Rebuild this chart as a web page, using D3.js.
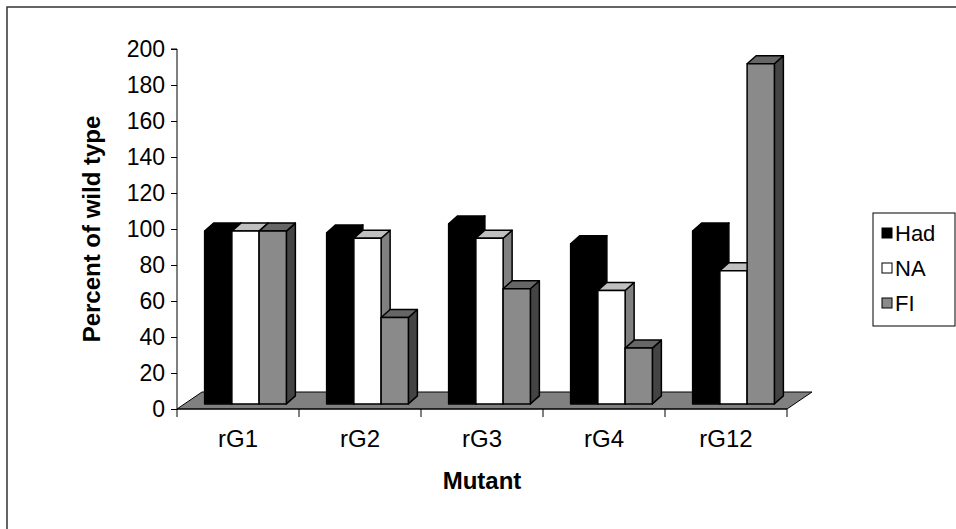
<!DOCTYPE html>
<html><head><meta charset="utf-8">
<script src="https://cdn.jsdelivr.net/npm/d3@7"></script>
<style>html,body{margin:0;padding:0;background:#fff;}svg{display:block;font-family:"Liberation Sans",Arial,sans-serif;}</style>
</head><body>
<svg id="c" width="956" height="529"></svg>
<script>
const categories = ["rG1","rG2","rG3","rG4","rG12"];
const seriesNames = ["Had","NA","FI"];
const hadValues = [96, 95, 100, 89, 96];
const naValues  = [96, 92, 92, 63, 74];
const fiValues  = [96, 48, 64, 31, 189];
const yTicks = [0,20,40,60,80,100,120,140,160,180,200];

const seriesValues = [hadValues, naValues, fiValues];
const faceColors = [
  {front:"#000000", top:"#000000", side:"#000000"},
  {front:"#ffffff", top:"#c0c0c0", side:"#808080"},
  {front:"#8a8a8a", top:"#666666", side:"#444444"}
];

const svg = d3.select("#c");
// outer border
svg.append("rect").attr("x",7).attr("y",7).attr("width",960).attr("height",540)
  .attr("fill","none").attr("stroke","#333").attr("stroke-width",1.5);

const x0 = 177, x1 = 787, yBase = 409, yTop = 49;
const floorDx = 25, floorDy = -17;
const frontFrac = 0.3;
const barDx = 9, barDy = -8;

const x = d3.scaleBand().domain(categories).range([x0, x1]);
const y = d3.scaleLinear().domain([0,200]).range([yBase, yTop]);

// floor
svg.append("path")
  .attr("d", `M${x0},${yBase}L${x1},${yBase}L${x1+floorDx},${yBase+floorDy}L${x0+floorDx},${yBase+floorDy}Z`)
  .attr("fill","#808080").attr("stroke","#000").attr("stroke-width",1);

// y axis
const yAxis = d3.axisLeft(y).tickValues(yTicks).tickSize(6).tickPadding(6);
const gy = svg.append("g").attr("transform",`translate(${x0},0)`).call(yAxis);
gy.select(".domain").attr("stroke","#000").attr("d",`M-6,${yTop}H0V${yBase}`);
gy.selectAll(".tick line").attr("stroke","#000");
gy.selectAll("text").attr("font-size",23).attr("fill","#000").attr("font-family","Liberation Sans, Arial, sans-serif");

// x axis
const gx = svg.append("g");
gx.append("line").attr("x1",x0).attr("x2",x1).attr("y1",yBase).attr("y2",yBase).attr("stroke","#000");
const bounds = categories.map(c => x(c)).concat([x1]);
gx.selectAll("line.tk").data(bounds).enter().append("line").attr("class","tk")
  .attr("x1",d=>d).attr("x2",d=>d).attr("y1",yBase).attr("y2",yBase+8).attr("stroke","#000");
gx.selectAll("text").data(categories).enter().append("text")
  .attr("x",d=>x(d)+x.bandwidth()/2).attr("y",447).attr("text-anchor","middle")
  .attr("font-size",24).text(d=>d);

// bars
const groupW = x.bandwidth()*0.67;
const barW = groupW/3;
const offX = floorDx*frontFrac, offY = floorDy*frontFrac;
const yb = v => y(v) + offY;
const bars = svg.append("g");
categories.forEach((cat, ci) => {
  const cx = x(cat) + x.bandwidth()/2 + offX;
  seriesValues.forEach((vals, si) => {
    const v = vals[ci];
    const bx = cx - groupW/2 + si*barW;
    const t = yb(v), b = yb(0);
    const col = faceColors[si];
    const g = bars.append("g").attr("stroke","#000").attr("stroke-width",1.5).attr("stroke-linejoin","round");
    g.append("path").attr("fill",col.side)
      .attr("d",`M${bx+barW},${t}L${bx+barW+barDx},${t+barDy}L${bx+barW+barDx},${b+barDy}L${bx+barW},${b}Z`);
    g.append("path").attr("fill",col.top)
      .attr("d",`M${bx},${t}L${bx+barDx},${t+barDy}L${bx+barW+barDx},${t+barDy}L${bx+barW},${t}Z`);
    g.append("rect").attr("fill",col.front).attr("x",bx).attr("y",t).attr("width",barW).attr("height",b-t);
  });
});

// axis titles
svg.append("text").attr("x",(x0+x1)/2).attr("y",489).attr("text-anchor","middle")
  .attr("font-size",24).attr("font-weight","bold").text("Mutant");
svg.append("text").attr("transform",`translate(100,${(yTop+yBase)/2}) rotate(-90)`)
  .attr("text-anchor","middle").attr("font-size",24).attr("font-weight","bold").text("Percent of wild type");

// legend
const lg = svg.append("g");
lg.append("rect").attr("x",873).attr("y",213).attr("width",82).attr("height",113)
  .attr("fill","#fff").attr("stroke","#000").attr("stroke-width",1);
seriesNames.forEach((n,i) => {
  const cy = 233 + i*35;
  lg.append("rect").attr("x",882).attr("y",cy-5).attr("width",10).attr("height",10)
    .attr("fill",faceColors[i].front).attr("stroke","#000").attr("stroke-width",1);
  lg.append("text").attr("x",895).attr("y",cy+8).attr("font-size",22).text(n);
});
</script>
</body></html>
